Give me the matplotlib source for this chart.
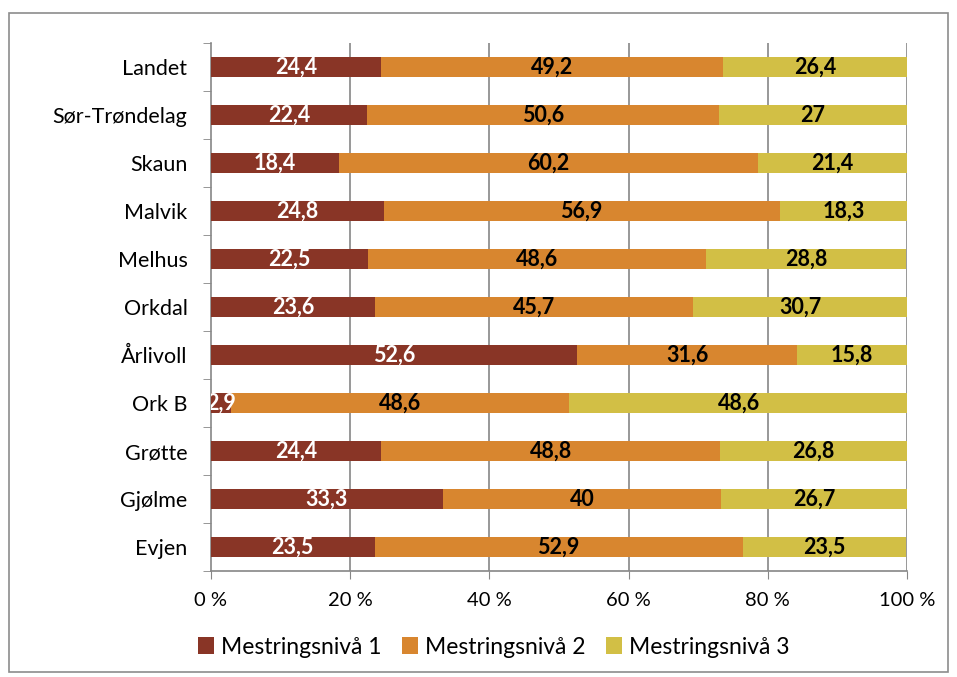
import numpy as np
import matplotlib.pyplot as plt
from matplotlib.patches import Rectangle

plt.rcParams['font.family'] = ['Lato', 'DejaVu Sans']

categories = ['Landet', 'Sør-Trøndelag', 'Skaun', 'Malvik', 'Melhus', 'Orkdal',
              'Årlivoll', 'Ork B', 'Grøtte', 'Gjølme', 'Evjen']
niva1 = [24.4, 22.4, 18.4, 24.8, 22.5, 23.6, 52.6, 2.9, 24.4, 33.3, 23.5]
niva2 = [49.2, 50.6, 60.2, 56.9, 48.6, 45.7, 31.6, 48.6, 48.8, 40, 52.9]
niva3 = [26.4, 27, 21.4, 18.3, 28.8, 30.7, 15.8, 48.6, 26.8, 26.7, 23.5]
series_names = ['Mestringsnivå 1', 'Mestringsnivå 2', 'Mestringsnivå 3']
xticks = [0, 20, 40, 60, 80, 100]

colors = ['#893526', '#D8862F', '#D2BF45']
label_colors = ['white', 'black', 'black']
axcol = '#868686'

fig = plt.figure(figsize=(9.57, 6.77), dpi=100)
ax = fig.add_axes([211/957, 1-571/677, (907-211)/957, (571-43)/677])

# outer border
fig.patches.append(Rectangle((9/957, 1-672/677), 939/957, 659/677,
                             transform=fig.transFigure, fill=False,
                             edgecolor='#8c8c8c', lw=1.2))

y = np.arange(len(categories))
left = np.zeros(len(categories))
for vals, col, lc, name in zip([niva1, niva2, niva3], colors, label_colors, series_names):
    vals = np.array(vals, dtype=float)
    ax.barh(y, vals, left=left, height=0.4, color=col, label=name, zorder=3)
    for yi, l, v in zip(y, left, vals):
        txt = f'{v:g}'.replace('.', ',')
        ax.text(l + v/2, yi, txt, ha='center', va='center', color=lc,
                fontsize=15.5, fontweight='bold', zorder=4, clip_on=True)
    left += vals

ax.set_xlim(0, 100)
ax.set_ylim(len(categories) - 0.5, -0.5)
ax.set_yticks(y)
ax.set_yticklabels(categories, fontsize=15.5)
ax.set_yticks(np.arange(len(categories) + 1) - 0.5, minor=True)
ax.tick_params(axis='y', which='major', length=0, pad=17)
ax.tick_params(axis='y', which='minor', length=6, color=axcol, direction='out')

ax.set_xticks(xticks)
ax.set_xticklabels([f'{t} %' for t in xticks], fontsize=14.5)
ax.tick_params(axis='x', length=6, color=axcol, direction='out', pad=9)

for x in xticks[1:]:
    ax.axvline(x, color=axcol, lw=1.2, zorder=1)

for s in ['top', 'right']:
    ax.spines[s].set_visible(False)
for s in ['left', 'bottom']:
    ax.spines[s].set_color(axcol)
    ax.spines[s].set_linewidth(1.2)

fig.legend(loc='center', bbox_to_anchor=(494/957, 1-647/677), ncol=3,
           frameon=False, fontsize=16.5, handlelength=0.7, handleheight=0.7,
           handletextpad=0.3, columnspacing=0.9)

fig.savefig('out.png', dpi=100)
